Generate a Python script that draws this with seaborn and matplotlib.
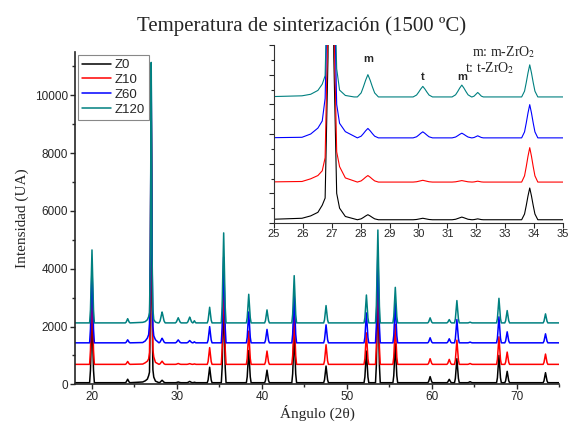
import numpy as np
import pandas as pd
import matplotlib
matplotlib.use('Agg')
import matplotlib.pyplot as plt
import seaborn as sns
from matplotlib.ticker import MultipleLocator, NullFormatter

sns.set_style('ticks')
plt.rcParams['font.family'] = ['Liberation Sans', 'DejaVu Sans']
plt.rcParams['mathtext.fontset'] = 'stix'

# samples and their drawing colours
samples = ['Z0', 'Z10', 'Z60', 'Z120']
colors = ['#000000', '#ff0000', '#0000ff', '#008080']
baseline = [55, 690, 1435, 2125]

# diffraction peaks (2theta, relative width, apex per sample)
peak_pos = [20.0, 24.2, 28.25, 30.15, 31.5, 32.05, 33.85, 35.5, 38.45, 40.6, 43.8,
            47.55, 52.3, 53.65, 55.7, 59.8, 62.05, 62.95, 64.5, 67.9, 68.87, 73.38]
peak_width = [1.0, 1.0, 1.3, 1.2, 1.2, 0.7, 1.0, 1.0, 1.0, 1.0, 1.0,
              1.0, 1.0, 1.0, 1.0, 1.0, 1.0, 1.0, 1.0, 1.0, 1.0, 1.0]
peak_z0 = [2450, 175, 140, 80, 100, 70, 590, 3000, 1170, 490, 1750,
           632, 1150, 3400, 1400, 265, 172, 886, 90, 1000, 448, 402]
peak_z10 = [3380, 790, 800, 720, 715, 705, 1270, 3700, 1840, 1150, 2350,
            1368, 1780, 4000, 2070, 886, 862, 1528, 720, 1644, 1115, 1046]
peak_z60 = [4080, 1540, 1594, 1537, 1514, 1470, 1995, 4400, 2505, 1900, 3070,
            2057, 2470, 4650, 2817, 1610, 1575, 2240, 1460, 2334, 1816, 1747]
peak_z120 = [4650, 2270, 2501, 2303, 2325, 2200, 2666, 5240, 3115, 2575, 3760,
             2724, 3090, 5340, 3355, 2300, 2240, 2897, 2150, 2976, 2551, 2437]

# peak profile (offset in degrees, fraction of apex)
shape_dx = [-0.28, -0.18, -0.12, -0.06, 0.0, 0.06, 0.12, 0.18, 0.28]
shape_frac = [0.0, 0.18, 0.45, 0.75, 1.0, 0.75, 0.45, 0.18, 0.0]

# main reflection near 27 deg with its shoulders (absolute intensities)
big_pos = 26.97
big_dx = [-1.0, -0.7, -0.45, -0.3, -0.2, -0.1, -0.04, 0.0, 0.04, 0.1, 0.2, 0.3, 0.5, 0.8]
big_z0 = [80, 120, 180, 300, 420, 2800, 7500, 9400, 7500, 2800, 500, 250, 110, 70]
big_z10 = [700, 745, 800, 880, 1100, 3500, 8000, 10000, 8000, 3500, 1200, 950, 760, 710]
big_z60 = [1445, 1500, 1600, 1720, 2100, 4300, 8500, 10600, 8500, 4300, 2000, 1680, 1540, 1465]
big_z120 = [2144, 2170, 2235, 2340, 2484, 4500, 9000, 11140, 9000, 4500, 2600, 2240, 2150, 2125]

peaks = [peak_z0, peak_z10, peak_z60, peak_z120]
bigs = [big_z0, big_z10, big_z60, big_z120]


def pattern(k):
    base = baseline[k]
    pts = [(18.0, base), (75.0, base)]
    for p, w, top in zip(peak_pos, peak_width, peaks[k]):
        for dx, fr in zip(shape_dx, shape_frac):
            pts.append((p + dx * w, base + (top - base) * fr))
    for dx, v in zip(big_dx, bigs[k]):
        pts.append((big_pos + dx, v))
    pts.sort()
    return pd.DataFrame(pts, columns=['angle', 'intensity'])


data = [pattern(k) for k in range(len(samples))]

fig = plt.figure(figsize=(5.69, 4.26), dpi=100)
ax = fig.add_axes([0.1318, 0.0979, 0.8511, 0.780])

for df, name, c in zip(data, samples, colors):
    sns.lineplot(data=df, x='angle', y='intensity', color=c, lw=1.1, label=name,
                 estimator=None, sort=False, ax=ax)

ax.set_xlim(18, 75)
ax.set_ylim(0, 11500)
ax.xaxis.set_major_locator(MultipleLocator(10))
ax.xaxis.set_minor_locator(MultipleLocator(5))
ax.yaxis.set_major_locator(MultipleLocator(2000))
ax.yaxis.set_minor_locator(MultipleLocator(1000))
ax.tick_params(which='major', direction='out', length=3.5, width=1, labelsize=8.5, pad=1.5)
ax.tick_params(which='minor', direction='out', length=2.5, width=1)
sns.despine(ax=ax)
for s in ['left', 'bottom']:
    ax.spines[s].set_linewidth(1.2)

ax.set_xlabel('Ángulo (2θ)', family='Liberation Serif', fontsize=11, labelpad=1)
ax.set_ylabel('Intensidad (UA)', family='Liberation Serif', fontsize=11, labelpad=4)

leg = ax.legend(loc='upper left', bbox_to_anchor=(0.006, 0.991), borderaxespad=0,
                fontsize=9.5, handlelength=2.2, labelspacing=0.2, handletextpad=0.3,
                borderpad=0.3, fancybox=False, framealpha=1)
leg.get_frame().set_edgecolor('#888888')
leg.get_frame().set_linewidth(0.8)

fig.text(0.53, 1 - 31 / 426, 'Temperatura de sinterización (1500 ºC)',
         family='Liberation Serif', fontsize=15, ha='center', va='baseline')

# inset zoom 25-35 deg
axin = fig.add_axes([0.4815, 0.4765, 0.5079, 0.4178])
for df, c in zip(data, colors):
    sns.lineplot(data=df, x='angle', y='intensity', color=c, lw=0.8,
                 estimator=None, sort=False, legend=False, ax=axin)
axin.set_xlim(25, 35)
axin.set_ylim(0, 3000)
axin.set_xlabel('')
axin.set_ylabel('')
axin.xaxis.set_major_locator(MultipleLocator(1))
axin.yaxis.set_major_locator(MultipleLocator(500))
axin.yaxis.set_minor_locator(MultipleLocator(250))
axin.yaxis.set_major_formatter(NullFormatter())
axin.tick_params(which='major', direction='out', length=3.5, width=0.8, labelsize=8, pad=1)
axin.tick_params(which='minor', direction='out', length=2, width=0.8)
sns.despine(ax=axin)
for s in ['left', 'bottom']:
    axin.spines[s].set_linewidth(0.8)
    axin.spines[s].set_color('#333333')

for lab, x, y in [('m', 28.25, 2713), ('t', 30.15, 2410), ('m', 31.52, 2410)]:
    axin.text(x, y, lab, fontsize=8, fontweight='bold', ha='center', va='baseline')

axin.text(0.686, 0.94, r'm: m-ZrO$_2$', transform=axin.transAxes,
          family='Liberation Serif', fontsize=10, va='baseline')
axin.text(0.662, 0.845, r't: t-ZrO$_2$', transform=axin.transAxes,
          family='Liberation Serif', fontsize=10, va='baseline')

fig.savefig('out.png', dpi=100)
